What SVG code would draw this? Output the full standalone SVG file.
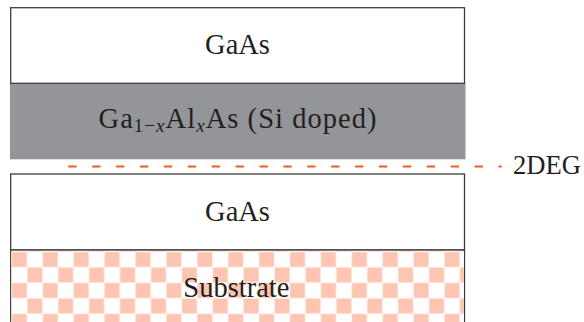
<svg xmlns="http://www.w3.org/2000/svg" width="584" height="322" viewBox="0 0 584 322">
  <style>
    text { font-family: 'Liberation Serif', 'Times New Roman', Times, serif; font-size: 28.5px; fill: #231f20; }
    .lbl { text-anchor: middle; }
    .box { stroke: #3c3c3c; stroke-width: 1.3; }
    .sub { font-size: 19px; }
    .it { font-style: italic; }
  </style>
  <defs>
    <pattern id="checker" patternUnits="userSpaceOnUse" x="11.7" y="251.7" width="30.9" height="31">
      <rect x="0" y="0" width="30.9" height="31" fill="#ffffff"/>
      <rect x="0" y="0" width="15.45" height="15.5" fill="#fde3da"/>
      <rect x="15.45" y="15.5" width="15.45" height="15.5" fill="#fde3da"/>
      <rect x="0.5" y="0.5" width="14.4" height="14.5" fill="#fdc5b2"/>
      <rect x="15.95" y="16" width="14.4" height="14.5" fill="#fdc5b2"/>
    </pattern>
  </defs>

  <rect width="584" height="322" fill="#ffffff"/>

  <g id="algaas">
    <rect x="10" y="83.3" width="455.5" height="76" fill="#939598"/>
    <text class="lbl" x="237.5" y="128.3" textLength="278" lengthAdjust="spacing">Ga<tspan class="sub" dy="4">1−</tspan><tspan class="sub it">x</tspan><tspan dy="-4">Al</tspan><tspan class="sub it" dy="4">x</tspan><tspan dy="-4">As (Si doped)</tspan></text>
  </g>

  <g id="gaas-top">
    <rect class="box" x="10.7" y="7.7" width="453.8" height="75.6" fill="#ffffff"/>
    <text class="lbl" x="237.5" y="54.3">GaAs</text>
  </g>

  <g id="substrate">
    <rect class="box" x="10.7" y="250" width="453.8" height="80" fill="#ffffff"/>
    <rect x="11.4" y="250.7" width="452.4" height="72" fill="url(#checker)"/>
    <text class="lbl" x="236.4" y="297.3">Substrate</text>
  </g>

  <g id="gaas-bottom">
    <rect class="box" x="10.7" y="174" width="453.8" height="75.8" fill="#ffffff"/>
    <text class="lbl" x="237.5" y="221">GaAs</text>
  </g>

  <g id="connectors">
    <line x1="68.3" y1="166.6" x2="501.7" y2="166.6" stroke="#f15a22" stroke-width="2" stroke-dasharray="8.3 15.6"/>
  </g>

  <g id="twodeg">
    <text x="513" y="174" style="font-size:27px" textLength="68" lengthAdjust="spacingAndGlyphs">2DEG</text>
  </g>
</svg>
